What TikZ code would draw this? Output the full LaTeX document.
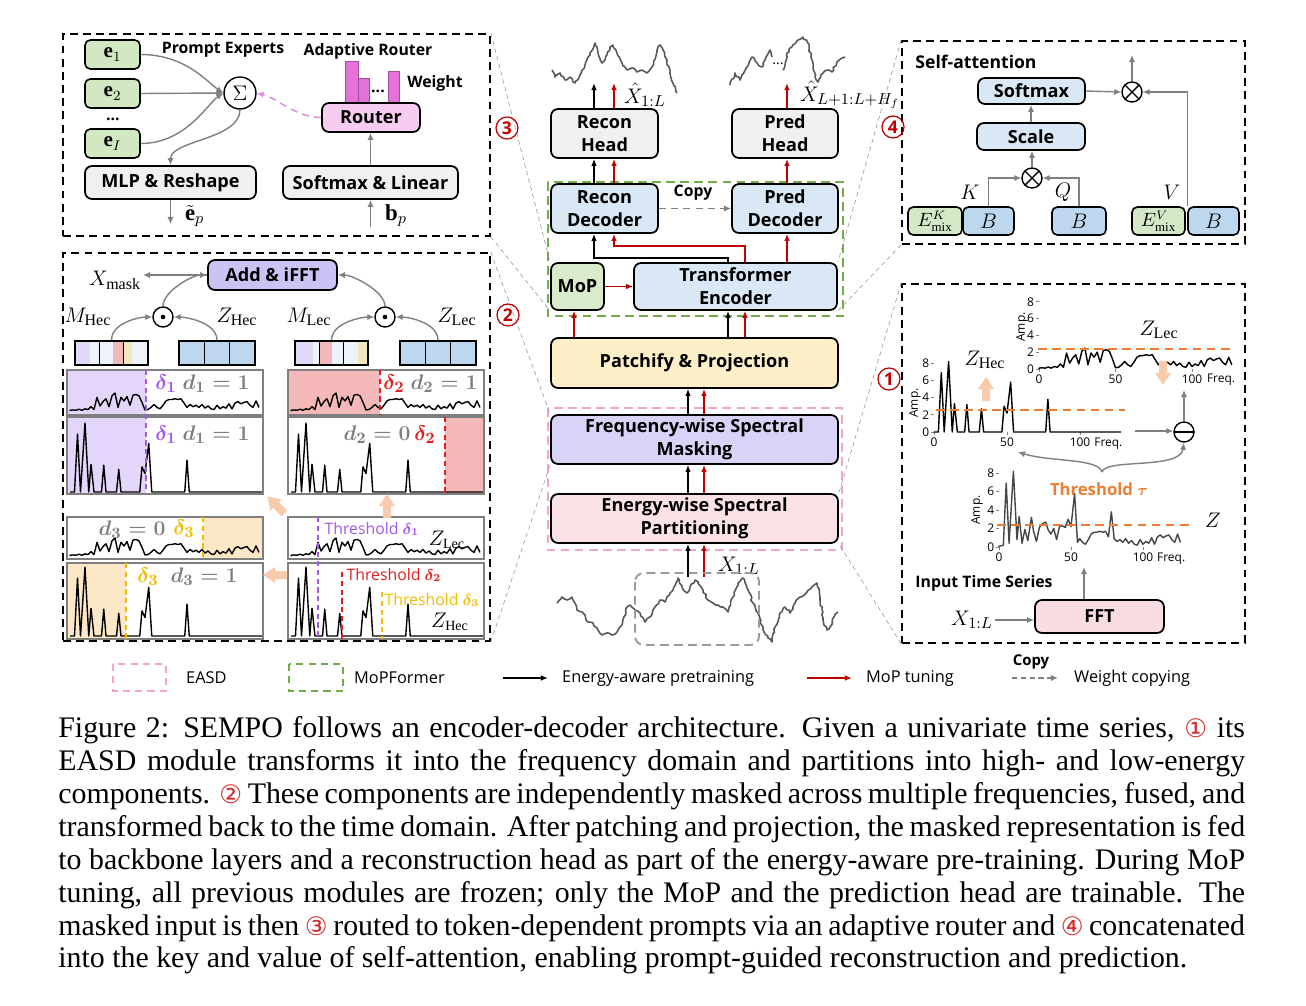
\documentclass[tikz,border=0pt]{standalone}
\usepackage{amsmath, amssymb}
\usepackage{fontspec}
\setmainfont{Liberation Serif}
\setsansfont{Open Sans}
\newfontfamily\dejavu{DejaVu Sans}
\usetikzlibrary{arrows.meta, positioning, calc, decorations.pathmorphing}

\definecolor{darkred}{HTML}{C00000}
\definecolor{capred}{HTML}{D42A2A}
\definecolor{boxgray}{HTML}{F0F0F0}
\definecolor{boxblue}{HTML}{DAE7F5}
\definecolor{boxgreen}{HTML}{DAEBCB}
\definecolor{egreen}{HTML}{D2E8C3}
\definecolor{boxyellow}{HTML}{FDEFC8}
\definecolor{boxlav}{HTML}{D8D3F7}
\definecolor{boxpink}{HTML}{FBE2E6}
\definecolor{routerpink}{HTML}{F6CCF0}
\definecolor{barmag}{HTML}{E472D8}
\definecolor{addlav}{HTML}{CCC3F5}
\definecolor{fftpink}{HTML}{F9DCE1}
\definecolor{bblue}{HTML}{BDD7EE}
\definecolor{emixgreen}{HTML}{D4E8C6}
\definecolor{easdpink}{HTML}{F2A6CA}
\definecolor{mopgreen}{HTML}{70AD47}
\definecolor{peach}{HTML}{F8CBAD}
\definecolor{thorange}{HTML}{ED7D31}
\definecolor{dpurple}{HTML}{A259F0}
\definecolor{dred}{HTML}{E02020}
\definecolor{dyellow}{HTML}{F2BC00}
\definecolor{lavshade}{HTML}{E4D6FA}
\definecolor{redshade}{HTML}{F5B8B8}
\definecolor{yelshade}{HTML}{FCE8C6}
\definecolor{paleblue}{HTML}{EEF3FA}
\definecolor{cellpink}{HTML}{F2B9BC}
\definecolor{cellyel}{HTML}{F1E7BE}
\definecolor{celllav}{HTML}{E1D8F8}
\definecolor{dgray}{HTML}{7F7F7F}
\definecolor{arrgray}{HTML}{808080}
\definecolor{tsgray}{HTML}{585858}
\definecolor{routerdash}{HTML}{E090E0}

%%% Spettri (freq/ampiezza)
\newcommand{\zleclist}{0/0.1,2/0.15,4/0.1,6/0.25,8/0.1,10/0.3,12/0.2,14/0.6,16/0.2,18/1.9,20/0.7,22/1.3,24/1.7,26/0.6,28/2.1,30/2.5,32/0.5,34/1.9,36/1.4,38/2.0,40/0.8,42/2.2,44/2.3,46/2.1,48/1.2,50/0.15,52/0.2,54/0.5,56/0.9,58/0.5,60/0.3,62/0.8,64/1.4,66/1.6,68/1.6,70/1.7,72/1.6,74/1.7,76/1.1,78/0.5,80/0.9,82/0.6,84/0.8,86/0.5,88/0.9,90/0.4,92/0.7,94/0.3,96/0.2,98/0.8,100/0.3,102/0.6,104/0.4,106/1.0,108/0.3,110/1.1,112/1.3,114/1.0,116/1.2,118/1.3,120/0.8,122/0.5,124/1.4,126/0.5}
\newcommand{\zheclist}{0/0,3/0,5/6.9,7/0,10/8.2,12.5/0,14/3.3,16/0,21/0,22.5/3.2,24/0,31/0,32.5/2.7,34/0,46.5/0,48/3.0,50/2.2,52.5/5.8,54.5/0,76.5/0,78/3.8,79.5/0,128/0}
\newcommand{\zlist}{0/0.1,2/0.15,3/0.2,5/6.9,7/0.4,10/8.2,12.5/0.8,14/3.3,16/0.4,18/1.9,20/0.7,22.5/3.2,24/1.7,26/0.6,28/2.1,30/2.5,32.5/2.7,34/1.9,36/1.4,38/2.0,40/0.8,42/2.2,44/2.3,46/2.1,48/3.0,50/2.2,52.5/5.8,54.5/0.5,56/0.9,58/0.5,60/0.3,62/0.8,64/1.4,66/1.6,68/1.6,70/1.7,72/1.6,74/1.7,76/1.1,78/3.8,80/0.9,82/0.6,84/0.8,86/0.5,88/0.9,90/0.4,92/0.7,94/0.3,96/0.2,98/0.8,100/0.3,102/0.6,104/0.4,106/1.0,108/0.3,110/1.1,112/1.3,114/1.0,116/1.2,118/1.3,120/0.8,122/0.5,124/1.4,126/0.5}

% curva di uno spettro: origine, passo x, passo y, dati
\newcommand{\drawspec}[5][black]{%
  \begin{scope}[shift={(#2)}, xscale=#3, yscale=-#4]
    \draw[#1, line width=0.8pt, line join=round] (0,0) \foreach \fq/\am in #5 {-- (\fq,\am)};
  \end{scope}}
% assi dei riquadri: origine, passo x, passo y, posizione di Amp.
\newcommand{\insetaxes}[5]{%
  \begin{scope}[shift={(#1)}, xscale=#2, yscale=-#3]
    \foreach \tk in {0,2,4,6,8} {
      \draw[arrgray, line width=0.4pt] (0,\tk) -- (-2,\tk);
      \node[ticklbl, anchor=east] at (-2.5,\tk) {\tk};
    }
    \foreach \tk in {0,50,100} {
      \draw[arrgray, line width=0.4pt] (\tk,0) -- (\tk,-0.3);
      \node[ticklbl, anchor=north] at (\tk,-0.5) {\tk};
    }
    \node[ticklbl, anchor=north west] at (109,-0.5) {Freq.};
  \end{scope}
  \node[ticklbl, rotate=90] at ($(#1)+(#4,#5)$) {Amp.};}

\newcommand{\capl}[1]{\hbox to 23.74cm{#1}}
\newcommand{\cnum}[1]{\textcolor{capred}{{\dejavu\fontsize{14.5}{14.5}\selectfont #1}}}

\tikzset{
  mbox/.style={draw, line width=1pt, rounded corners=4pt, inner sep=0pt, align=center,
    font=\sffamily\bfseries\fontsize{10.3}{13}\selectfont},
  pbox/.style={draw, line width=0.9pt, rounded corners=3pt, inner sep=0pt, align=center},
  panel/.style={draw, line width=1pt, dash pattern=on 4.5pt off 3pt, inner sep=0pt},
  blkarr/.style={-{Latex[length=4pt,width=3.2pt]}, line width=0.85pt},
  redarr/.style={blkarr, darkred},
  garr/.style={-{Latex[length=4pt,width=3.6pt]}, line width=0.8pt, arrgray},
  zoomln/.style={arrgray!80, line width=0.35pt, dash pattern=on 2.5pt off 2pt},
  numc/.style={circle, draw=darkred, text=darkred, line width=0.7pt, minimum size=0.44cm,
    inner sep=0pt, font=\sffamily\bfseries\fontsize{10}{10}\selectfont},
  opc/.style={circle, draw, line width=0.8pt, minimum size=0.4cm, inner sep=0pt},
  otimes/.style={opc, path picture={\draw[line width=0.8pt]
    (path picture bounding box.north west) -- (path picture bounding box.south east)
    (path picture bounding box.north east) -- (path picture bounding box.south west);}},
  odot/.style={opc, path picture={\fill (path picture bounding box.center) circle (1.3pt);}},
  ominus/.style={opc, path picture={\draw[line width=0.8pt]
    (path picture bounding box.west) -- (path picture bounding box.east);}},
  ttl/.style={font=\sffamily\bfseries\fontsize{9}{11}\selectfont},
  mlbl/.style={font=\fontsize{13}{13}\selectfont, inner sep=1pt},
  dlbl/.style={font=\fontsize{12.5}{12.5}\selectfont, inner sep=0pt},
  thlbl/.style={font=\sffamily\fontsize{9}{10}\selectfont, inner sep=0pt},
  ticklbl/.style={font=\sffamily\fontsize{6.8}{7}\selectfont, inner sep=0.5pt},
  plotfr/.style={draw=dgray, line width=0.6pt},
  thr/.style={line width=1pt, dash pattern=on 3pt off 2pt},
  legtxt/.style={font=\sffamily\fontsize{9.3}{11}\selectfont, anchor=west},
  tsline/.style={tsgray, line width=0.9pt, line join=round, decorate,
    decoration={random steps, segment length=1.5pt, amplitude=0.6pt}},
  fatarr/.pic={\fill[peach] (-12,-4) -- (0,-4) -- (0,-8) -- (12,0) -- (0,8) -- (0,4) -- (-12,4) -- cycle;}
}

\begin{document}
\begin{tikzpicture}[x=0.02cm, y=-0.02cm]
\pgfmathsetseed{11}
\fill[white] (0,0) rectangle (1306,1005);
\useasboundingbox (0,0) rectangle (1306,1005);

%%% Pannelli
\node[panel, minimum width=8.54cm, minimum height=4.04cm] (pnl3) at (276.5,135) {};
\node[panel, minimum width=8.54cm, minimum height=7.76cm] (pnl2) at (276.5,447) {};
\node[panel, minimum width=6.86cm, minimum height=4.06cm] (pnl4) at (1073.5,142.5) {};
\node[panel, minimum width=6.86cm, minimum height=7.18cm] (pnl1) at (1073.5,463.5) {};

%%% Colonna centrale
\node[mbox, fill=boxgray, minimum width=2.14cm, minimum height=0.98cm] (rhead) at (604.5,133.5) {Recon\\Head};
\node[mbox, fill=boxgray, minimum width=2.12cm, minimum height=0.98cm] (phead) at (785,133.5) {Pred\\Head};
\node[mbox, fill=boxblue, minimum width=2.14cm, minimum height=0.98cm] (rdec) at (604.5,208.5) {Recon\\Decoder};
\node[mbox, fill=boxblue, minimum width=2.12cm, minimum height=0.98cm] (pdec) at (785,208.5) {Pred\\Decoder};
\node[mbox, fill=boxgreen, minimum width=1.06cm, minimum height=0.94cm] (mop) at (577.5,286.5) {MoP};
\node[mbox, fill=boxblue, minimum width=4.06cm, minimum height=0.94cm] (tenc) at (735.5,286.5) {Transformer\\Encoder};
\node[mbox, fill=boxyellow, minimum width=5.74cm, minimum height=1.0cm] (patch) at (694.5,363) {Patchify \& Projection};
\node[mbox, fill=boxlav, minimum width=5.74cm, minimum height=0.98cm] (fmask) at (694.5,439.5) {Frequency-wise Spectral\\Masking};
\node[mbox, fill=boxpink, minimum width=5.74cm, minimum height=0.98cm] (epart) at (694.5,518.5) {Energy-wise Spectral\\Partitioning};

%%% Gruppi tratteggiati
\draw[mopgreen, line width=1.1pt, dash pattern=on 5pt off 3pt] (548,182) rectangle (843,316);
\draw[easdpink, line width=1.1pt, dash pattern=on 5pt off 3pt] (548,408) rectangle (842,550);

%%% Linee di zoom
\draw[zoomln] (pnl3.north east) -- (mop.north west);
\draw[zoomln] (pnl3.south east) -- (mop.south west);
\draw[zoomln] (pnl2.north east) -- (fmask.north west);
\draw[zoomln] (pnl2.south east) -- (fmask.south west);
\draw[zoomln] (pnl4.north west) -- (tenc.north east);
\draw[zoomln] (pnl4.south west) -- (tenc.south east);
\draw[zoomln] (pnl1.north west) -- (epart.north east);
\draw[zoomln] (pnl1.south west) -- (epart.south east);

%%% Frecce centrali
\coordinate (cb) at (688,0);
\coordinate (cr) at (704,0);
\coordinate (xin) at (0,577);
\draw[blkarr] (cb |- xin) -- (cb |- epart.south);
\draw[redarr] (cr |- xin) -- (cr |- epart.south);
\draw[blkarr] (cb |- epart.north) -- (cb |- fmask.south);
\draw[redarr] (cr |- epart.north) -- (cr |- fmask.south);
\draw[blkarr] (cb |- fmask.north) -- (cb |- patch.south);
\draw[redarr] (cr |- fmask.north) -- (cr |- patch.south);
\node[mlbl, anchor=west] (xlbl) at (716,566) {$X_{1:L}$};

\coordinate (mr) at (574,0);
\coordinate (eb) at (728,0);
\coordinate (er) at (745,0);
\draw[redarr] (mr |- patch.north) -- (mr |- mop.south);
\draw[blkarr] (eb |- patch.north) -- (eb |- tenc.south);
\draw[redarr] (er |- patch.north) -- (er |- tenc.south);
\draw[redarr] (mop.east) -- (mop.east -| tenc.west);

\coordinate (db) at (594,0);
\coordinate (dr) at (614,0);
\coordinate (pr) at (787,0);
\coordinate (rout) at (0,83);
\draw[blkarr] (eb |- tenc.north) -- ++(0,-4) -| (db |- rdec.south);
\draw[redarr] (er |- tenc.north) -- ++(0,-16) -| (dr |- rdec.south);
\draw[redarr] (pr |- tenc.north) -- (pr |- pdec.south);
\draw[blkarr] (db |- rdec.north) -- (db |- rhead.south);
\draw[redarr] (dr |- rdec.north) -- (dr |- rhead.south);
\draw[redarr] (pr |- pdec.north) -- (pr |- phead.south);
\draw[blkarr] (db |- rhead.north) -- (db |- rout);
\draw[redarr] (dr |- rhead.north) -- (dr |- rout);
\draw[redarr] (pr |- phead.north) -- (pr |- rout);
\node[mlbl, anchor=west] (xrec) at (622,95) {$\hat{X}_{1:L}$};
\node[mlbl, anchor=west] (xpred) at (798,95) {$\hat{X}_{L+1:L+H_f}$};
\draw[garr, dash pattern=on 4pt off 3pt] (rdec.east) -- (pdec.west);
\node[font=\sffamily\bfseries\fontsize{9}{10}\selectfont] (cpy) at (693,193) {Copy};

%%% Serie temporali
\draw[tsline] (557,603) -- (562,597) -- (567,600) -- (572,597) -- (577,610) -- (583,613) -- (588,622) -- (593,623) -- (598,630) -- (602,635) -- (607,633) -- (612,635) -- (617,632) -- (622,625) -- (627,607) -- (630,605) -- (635,610) -- (640,613) -- (645,622) -- (650,617) -- (655,607) -- (660,600) -- (665,602) -- (670,593) -- (674,587) -- (678,578) -- (682,587) -- (687,593) -- (690,587) -- (695,580) -- (698,583) -- (703,590) -- (708,600) -- (713,603) -- (718,605) -- (723,607) -- (728,612) -- (733,597) -- (738,583) -- (743,578) -- (748,590) -- (753,603) -- (758,613) -- (763,630) -- (768,638) -- (772,642) -- (775,627) -- (780,613) -- (785,607) -- (790,613) -- (795,603) -- (800,597) -- (807,592) -- (812,587) -- (817,583) -- (820,597) -- (823,620) -- (827,630) -- (830,627) -- (834,617) -- (838,612);
\draw[arrgray!80, line width=1.1pt, dash pattern=on 5pt off 3pt, rounded corners=5pt] (635,573) rectangle (759,645);
\draw[tsline] (552,70) -- (555,77) -- (560,73) -- (565,80) -- (570,77) -- (575,83) -- (580,75) -- (585,65) -- (590,55) -- (595,43) -- (598,53) -- (602,63) -- (605,60) -- (610,47) -- (613,45) -- (617,53) -- (622,63) -- (627,70) -- (632,68) -- (637,72) -- (642,70) -- (647,73) -- (652,67) -- (657,50) -- (660,45) -- (663,50) -- (667,60) -- (670,73) -- (673,83) -- (677,93);
\draw[tsline] (730,85) -- (735,73) -- (740,80) -- (747,67) -- (752,57) -- (757,63) -- (762,67) -- (765,60) -- (770,50) -- (772,57);
\node[font=\sffamily\fontsize{8}{8}\selectfont] (pdots) at (778,64) {...};
\draw[tsline] (783,70) -- (787,53) -- (793,45) -- (798,40) -- (803,37) -- (808,43) -- (812,60) -- (815,77) -- (818,82) -- (823,73) -- (828,70) -- (832,72) -- (837,62) -- (842,58) -- (845,57);

%%% Pannello 3: prompt e router
\node[pbox, fill=egreen, minimum width=1.1cm, minimum height=0.58cm, font=\fontsize{12}{12}\selectfont] (e1) at (112.5,54.5) {$\mathbf{e}_1$};
\node[pbox, fill=egreen, minimum width=1.1cm, minimum height=0.58cm, font=\fontsize{12}{12}\selectfont] (e2) at (112.5,93.5) {$\mathbf{e}_2$};
\node[font=\sffamily\bfseries\fontsize{9}{9}\selectfont] (edots) at (113,119) {...};
\node[pbox, fill=egreen, minimum width=1.1cm, minimum height=0.58cm, font=\fontsize{12}{12}\selectfont] (eI) at (112.5,143.5) {$\mathbf{e}_I$};
\node[opc, minimum size=0.64cm, font=\fontsize{13}{13}\selectfont] (sig) at (240,93) {$\Sigma$};
\node[ttl] (pexp) at (223,50) {Prompt Experts};
\node[ttl] (arout) at (368,51) {Adaptive Router};
\filldraw[fill=barmag, draw=barmag!70!black, line width=0.5pt] (345,61) rectangle (358,103);
\filldraw[fill=barmag, draw=barmag!70!black, line width=0.5pt] (358,78) rectangle (369,103);
\filldraw[fill=barmag, draw=barmag!70!black, line width=0.5pt] (388,71) rectangle (399,103);
\node[font=\sffamily\bfseries\fontsize{9}{9}\selectfont] (wdots) at (378,91) {...};
\node[ttl] (wgt) at (435,83) {Weight};
\node[mbox, fill=routerpink, minimum width=1.96cm, minimum height=0.58cm] (router) at (371,117.5) {Router};
\node[mbox, fill=boxgray, minimum width=3.42cm, minimum height=0.66cm] (mlp) at (170.5,182.5) {MLP \& Reshape};
\node[mbox, fill=boxgray, minimum width=3.5cm, minimum height=0.66cm] (softlin) at (370.5,182.5) {Softmax \& Linear};
\draw[garr] (e1.east) .. controls +(45,0) and +(-15,-10) .. (sig.west);
\draw[garr] (e2.east) -- (sig.west);
\draw[garr] (eI.east) .. controls +(45,0) and +(-15,10) .. (sig.west);
\draw[garr] (sig.south) .. controls +(0,30) and +(0,-25) .. (mlp.north);
\draw[-{Latex[length=4pt,width=3.6pt]}, routerdash, line width=0.9pt, dash pattern=on 4pt off 3pt] (router.west) .. controls +(-25,0) and +(20,5) .. (sig.east);
\draw[garr] (softlin.north) -- (softlin.north |- router.south);
\coordinate (epout) at (170.5,224);
\draw[garr] (mlp.south) -- (epout);
\node[mlbl, anchor=west] (eplbl) at (183,216) {$\tilde{\mathbf{e}}_p$};
\coordinate (bpin) at (370.5,227);
\draw[garr] (bpin) -- (softlin.south);
\node[mlbl, anchor=west] (bplbl) at (383,216) {$\mathbf{b}_p$};

%%% Pannello 2: mascheramento
\node[mbox, fill=addlav, minimum width=2.58cm, minimum height=0.6cm] (addf) at (272.5,275) {Add \& iFFT};
\node[mlbl] (xmask) at (115,280) {$X_{\mathrm{mask}}$};
\draw[garr] (addf.west) -- (xmask.east |- addf.west);
\node[odot] (od1) at (163,317) {};
\node[odot] (od2) at (385,317) {};
\node[mlbl] (mhec) at (88,317) {$M_{\mathrm{Hec}}$};
\node[mlbl] (zhec) at (237,317) {$Z_{\mathrm{Hec}}$};
\node[mlbl] (mlec) at (309,317) {$M_{\mathrm{Lec}}$};
\node[mlbl] (zlec) at (457,317) {$Z_{\mathrm{Lec}}$};
% celle delle maschere
\fill[paleblue] (75,341) rectangle (148,365);
\fill[celllav] (75,341) rectangle (90,365);
\fill[cellpink] (113,341) rectangle (123,365);
\fill[cellyel] (124,341) rectangle (132,365);
\fill[paleblue] (295,341) rectangle (368,365);
\fill[celllav] (295,341) rectangle (313,365);
\fill[cellpink] (320,341) rectangle (332,365);
\fill[cellyel] (358,341) rectangle (368,365);
\fill[bblue] (179,341) rectangle (255,365);
\fill[bblue] (400,341) rectangle (476,365);
\node[draw, line width=0.8pt, minimum width=1.46cm, minimum height=0.48cm, inner sep=0pt] (msh) at (111.5,353) {};
\node[draw, line width=0.8pt, minimum width=1.52cm, minimum height=0.48cm, inner sep=0pt] (zsh) at (217,353) {};
\node[draw, line width=0.8pt, minimum width=1.46cm, minimum height=0.48cm, inner sep=0pt] (msl) at (331.5,353) {};
\node[draw, line width=0.8pt, minimum width=1.52cm, minimum height=0.48cm, inner sep=0pt] (zsl) at (438,353) {};
\foreach \cx in {99.3,123.7,319.3,343.7,204.3,229.7,425.3,450.7}
  \draw[line width=0.6pt] (\cx,341) -- (\cx,365);
\draw[garr] (msh.north) .. controls +(0,-18) and +(-12,0) .. (od1.west);
\draw[garr] (zsh.north) .. controls +(0,-18) and +(12,0) .. (od1.east);
\draw[garr] (msl.north) .. controls +(0,-18) and +(-12,0) .. (od2.west);
\draw[garr] (zsl.north) .. controls +(0,-18) and +(12,0) .. (od2.east);
\draw[garr] (od1.north) .. controls +(0,-15) and +(-15,0) .. (addf.west);
\draw[garr] (od2.north) .. controls +(0,-15) and +(15,0) .. (addf.east);

%%% Spettri mascherati
\fill[lavshade] (67,370) rectangle (146,415);
\fill[lavshade] (67,417) rectangle (146,494);
\fill[redshade] (288,370) rectangle (380,415);
\fill[redshade] (445,417) rectangle (484,494);
\fill[yelshade] (203,517) rectangle (263,559);
\fill[yelshade] (67,563) rectangle (126,639);
\drawspec{70,411}{1.5}{7.2}{\zleclist}
\drawspec{70,492}{1.5}{8.4}{\zheclist}
\drawspec{291,411}{1.5}{7.2}{\zleclist}
\drawspec{291,492}{1.5}{8.4}{\zheclist}
\drawspec{70,556}{1.5}{7.2}{\zleclist}
\drawspec{70,636}{1.5}{8.4}{\zheclist}
\drawspec{291,556}{1.5}{7.2}{\zleclist}
\drawspec{291,636}{1.5}{8.4}{\zheclist}
\draw[plotfr] (67,370) rectangle (263,415);
\draw[plotfr] (67,417) rectangle (263,494);
\draw[plotfr] (288,370) rectangle (484,415);
\draw[plotfr] (288,417) rectangle (484,494);
\draw[plotfr] (67,517) rectangle (263,559);
\draw[plotfr] (67,563) rectangle (263,639);
\draw[plotfr] (288,517) rectangle (484,559);
\draw[plotfr] (288,563) rectangle (484,639);
\draw[thr, dpurple] (146,370) -- (146,494);
\draw[thr, dred] (380,370) -- (380,415);
\draw[thr, dred] (445,417) -- (445,494);
\draw[thr, dyellow] (203,517) -- (203,559);
\draw[thr, dyellow] (126,563) -- (126,639);
\draw[thr, dpurple] (318,517) -- (318,639);
\draw[thr, dred] (342,572) -- (342,639);
\draw[thr, dyellow] (382,592) -- (382,639);
\node[dlbl, text=dpurple] (da1) at (166,384) {$\boldsymbol{\delta_1}$};
\node[dlbl, text=dgray] (da2) at (216,384) {$\boldsymbol{d_1 = 1}$};
\node[dlbl, text=dpurple] (db1) at (166,435) {$\boldsymbol{\delta_1}$};
\node[dlbl, text=dgray] (db2) at (216,435) {$\boldsymbol{d_1 = 1}$};
\node[dlbl, text=dred] (dc1) at (394,384) {$\boldsymbol{\delta_2}$};
\node[dlbl, text=dgray] (dc2) at (444,384) {$\boldsymbol{d_2 = 1}$};
\node[dlbl, text=dgray] (dd2) at (377,435) {$\boldsymbol{d_2 = 0}$};
\node[dlbl, text=dred] (dd1) at (425,435) {$\boldsymbol{\delta_2}$};
\node[dlbl, text=dgray] (de2) at (132,530) {$\boldsymbol{d_3 = 0}$};
\node[dlbl, text=dyellow] (de1) at (184,529) {$\boldsymbol{\delta_3}$};
\node[dlbl, text=dyellow] (df1) at (148,577) {$\boldsymbol{\delta_3}$};
\node[dlbl, text=dgray] (df2) at (204,577) {$\boldsymbol{d_3 = 1}$};
\node[thlbl, text=dpurple] (thg) at (372,529) {Threshold $\boldsymbol{\delta_1}$};
\node[mlbl, font=\fontsize{12}{12}\selectfont] (zlg) at (447,540) {$Z_{\mathrm{Lec}}$};
\node[thlbl, text=dred] (thh2) at (394,575) {Threshold $\boldsymbol{\delta_2}$};
\node[thlbl, text=dyellow] (thh3) at (432,600) {Threshold $\boldsymbol{\delta_3}$};
\node[mlbl, font=\fontsize{12}{12}\selectfont] (zhh) at (450,622) {$Z_{\mathrm{Hec}}$};
\pic[rotate=180] at (275,575) {fatarr};
\pic[rotate=90] at (387,506) {fatarr};
\pic[rotate=135] at (276,505) {fatarr};

%%% Pannello 4: self-attention
\node[ttl, font=\sffamily\bfseries\fontsize{10}{12}\selectfont] (satt) at (976,62) {Self-attention};
\node[mbox, fill=boxblue, minimum width=2.14cm, minimum height=0.52cm] (smax) at (1031.5,91) {Softmax};
\node[mbox, fill=boxblue, minimum width=2.16cm, minimum height=0.54cm] (scl) at (1031,136.5) {Scale};
\node[otimes] (ot1) at (1132,92) {};
\node[otimes] (ot2) at (1032,178) {};
\node[pbox, fill=emixgreen, minimum width=1.08cm, minimum height=0.56cm, font=\fontsize{10.5}{10.5}\selectfont] (ek) at (935,221) {$E^{K}_{\mathrm{mix}}$};
\node[pbox, fill=bblue, minimum width=1.02cm, minimum height=0.56cm, font=\fontsize{12}{12}\selectfont] (bk) at (988.5,221) {$B$};
\node[pbox, fill=bblue, minimum width=1.08cm, minimum height=0.56cm, font=\fontsize{12}{12}\selectfont] (bq) at (1079,221) {$B$};
\node[pbox, fill=emixgreen, minimum width=1.06cm, minimum height=0.56cm, font=\fontsize{10.5}{10.5}\selectfont] (ev) at (1158.5,221) {$E^{V}_{\mathrm{mix}}$};
\node[pbox, fill=bblue, minimum width=1.02cm, minimum height=0.56cm, font=\fontsize{12}{12}\selectfont] (bv) at (1213.5,221) {$B$};
\node[mlbl] (kl) at (970,192) {$K$};
\node[mlbl] (ql) at (1063,192) {$Q$};
\node[mlbl] (vl) at (1172,192) {$V$};
\draw[garr] (bk.north) |- (ot2.west);
\draw[garr] (bq.north) |- (ot2.east);
\draw[garr] (ot2.north) -- (ot2.north |- scl.south);
\draw[garr] (scl.north) -- (scl.north |- smax.south);
\draw[garr] (smax.east) -- (ot1.west);
\draw[garr] (bv.north west) |- (ot1.east);
\coordinate (attout) at (1132,55);
\draw[garr] (ot1.north) -- (attout);

%%% Pannello 1: EASD
\insetaxes{934,432}{1.46}{8.6}{-19}{-29}
\drawspec{934,432}{1.46}{8.6}{\zheclist}
\draw[thorange, line width=1.2pt, dash pattern=on 5pt off 3pt] (936,410) -- (1125,410);
\insetaxes{1039,369}{1.53}{8.4}{-17}{-42}
\drawspec{1039,369}{1.53}{8.4}{\zleclist}
\draw[thorange, line width=1.2pt, dash pattern=on 5pt off 3pt] (1038,349) -- (1233,349);
\insetaxes{999,547}{1.44}{9.25}{-22}{-37}
\drawspec[tsgray!80!black]{999,547}{1.44}{9.25}{\zlist}
\draw[thorange, line width=1.2pt, dash pattern=on 5pt off 3pt] (997,525) -- (1192,525);
\node[mlbl] (zhl) at (985,360) {$Z_{\mathrm{Hec}}$};
\node[mlbl] (zll) at (1159,330) {$Z_{\mathrm{Lec}}$};
\node[mlbl] (zl) at (1213,520) {$Z$};
\node[font=\sffamily\bfseries\fontsize{9.5}{11}\selectfont, text=thorange] (thtau) at (1099,489) {Threshold $\boldsymbol{\tau}$};
\pic[rotate=90] at (986,389) {fatarr};
\pic[rotate=-90] at (1163,373) {fatarr};
\node[ominus] (omin) at (1184,432) {};
\coordinate (hecout) at (1135,431);
\draw[garr] (hecout) -- (hecout -| omin.west);
\coordinate (lecin) at (1184,390);
\draw[garr] (omin.north) -- (lecin);
\coordinate (split) at (1102,472);
\coordinate (hecin) at (1018,452);
\draw[garr] (split) .. controls (1098,458) and (1050,462) .. (hecin);
\draw[garr] (split) .. controls (1106,458) and (1180,470) .. (omin.south);
\node[ttl] (its) at (984,583) {Input Time Series};
\node[mbox, fill=fftpink, minimum width=2.58cm, minimum height=0.66cm] (fft) at (1099.5,616.5) {FFT};
\node[mlbl] (xin1) at (972,620) {$X_{1:L}$};
\draw[garr] (xin1.east) -- (xin1.east -| fft.west);
\coordinate (zin) at (1084,567);
\draw[garr] (zin |- fft.north) -- (zin);

%%% Numeri cerchiati
\node[numc] (n3) at (507,128) {3};
\node[numc] (n2) at (508,315) {2};
\node[numc] (n4) at (893,127) {4};
\node[numc] (n1) at (889,379) {1};

%%% Legenda
\draw[easdpink, line width=1.1pt, dash pattern=on 4pt off 3pt] (113,664) rectangle (166,691);
\node[legtxt] (leasd) at (180,678) {EASD};
\draw[mopgreen, line width=1.1pt, dash pattern=on 4pt off 3pt] (289,664) rectangle (343,691);
\node[legtxt] (lmop) at (348,678) {MoPFormer};
\coordinate (la1) at (503,678);
\coordinate (la2) at (548,678);
\draw[blkarr] (la1) -- (la2);
\node[legtxt] (lpre) at (556,678) {Energy-aware pretraining};
\coordinate (lb1) at (807,678);
\coordinate (lb2) at (852,678);
\draw[redarr] (lb1) -- (lb2);
\node[legtxt] (ltun) at (860,678) {MoP tuning};
\coordinate (lc1) at (1012,678);
\coordinate (lc2) at (1058,678);
\draw[garr, dash pattern=on 3pt off 2pt] (lc1) -- (lc2);
\node[font=\sffamily\bfseries\fontsize{8.5}{9}\selectfont] (lcopy) at (1031,662) {Copy};
\node[legtxt] (lwc) at (1068,678) {Weight copying};

%%% Didascalia
\node[anchor=north west, inner sep=0pt, font=\rmfamily\fontsize{17}{18.75}\selectfont] (caption) at (58,716) {\vbox{\hsize=23.74cm
\capl{Figure 2: SEMPO follows an encoder-decoder architecture. Given a univariate time series, \cnum{①} its}
\capl{EASD module transforms it into the frequency domain and partitions into high- and low-energy}
\capl{components. \cnum{②} These components are independently masked across multiple frequencies, fused, and}
\capl{transformed back to the time domain. After patching and projection, the masked representation is fed}
\capl{to backbone layers and a reconstruction head as part of the energy-aware pre-training. During MoP}
\capl{tuning, all previous modules are frozen; only the MoP and the prediction head are trainable. The}
\capl{masked input is then \cnum{③} routed to token-dependent prompts via an adaptive router and \cnum{④} concatenated}
\hbox{into the key and value of self-attention, enabling prompt-guided reconstruction and prediction.}}};
\end{tikzpicture}
\end{document}
